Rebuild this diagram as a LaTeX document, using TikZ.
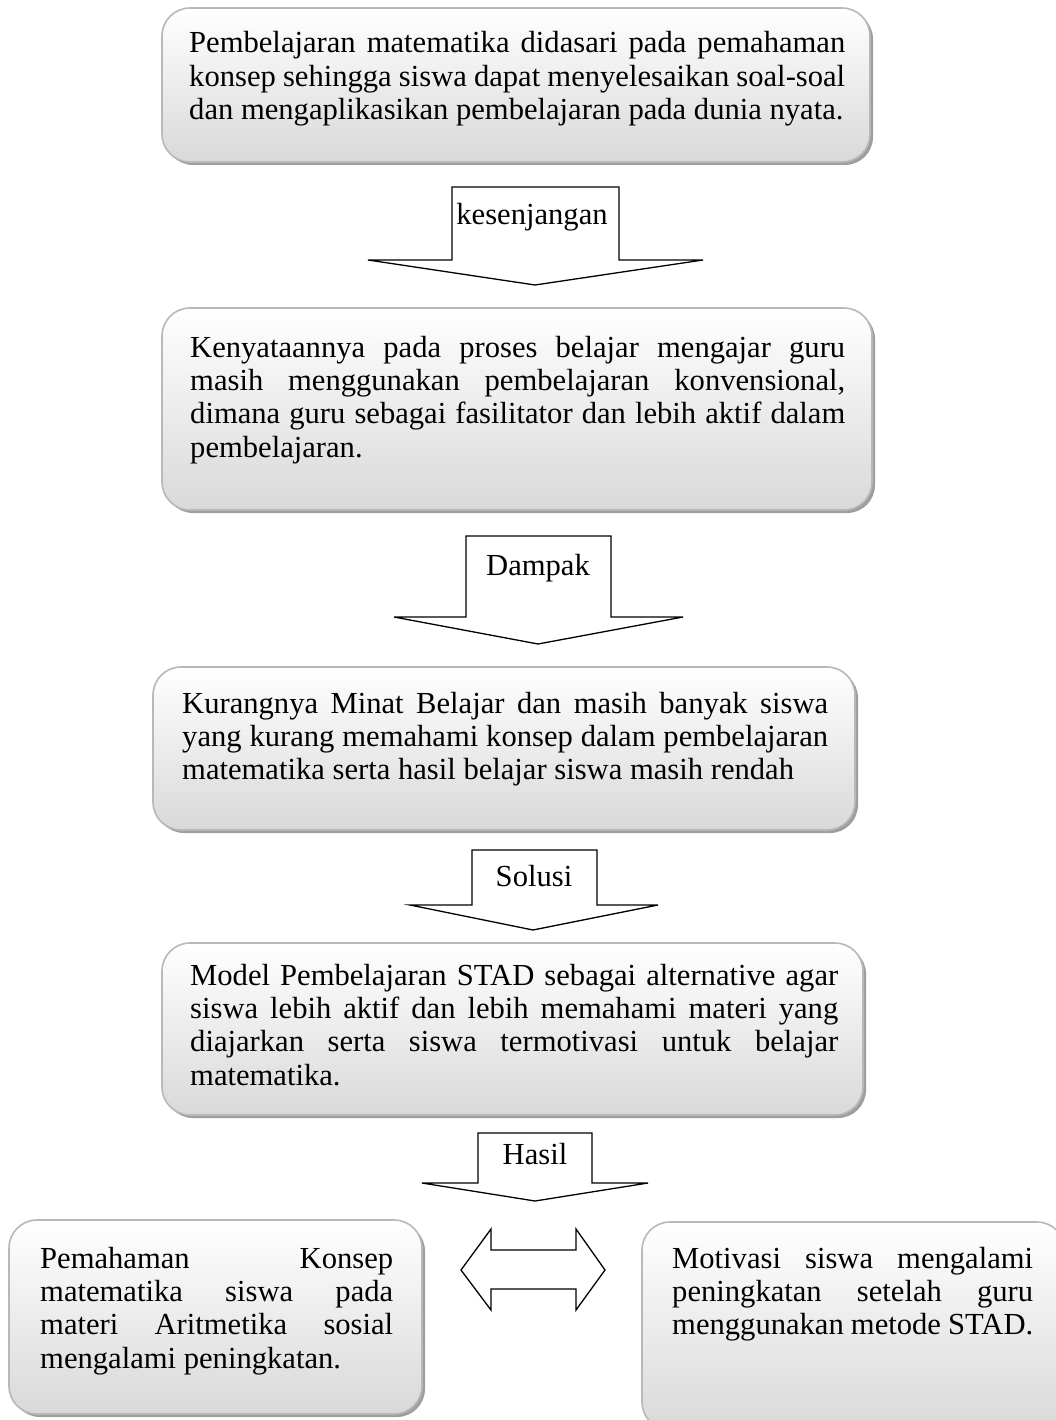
\documentclass[tikz,border=0pt]{standalone}
\usepackage{fontspec}
\setmainfont{Liberation Serif}
\begin{document}
\begin{tikzpicture}[x=1pt,y=-1pt,
  boxshadow/.style={fill=black!38,draw=none,rounded corners=28pt},
  boxface/.style={top color=white,bottom color=black!15,draw=black!28,line width=1.6pt,rounded corners=28pt},
  boxtext/.style={inner sep=0pt,anchor=base west,align=justify,font=\fontsize{30.6}{33.4}\selectfont},
  blockarrow/.style={draw=black,line width=1.3pt,fill=white,line join=miter},
  arrowlabel/.style={inner sep=0pt,anchor=base,font=\fontsize{30.6}{33.4}\selectfont}]
\useasboundingbox (0,0) rectangle (1055,1420);
\fill[white] (0,0) rectangle (1055,1420);

% Box 1
\fill[boxshadow] (165,11) rectangle (873,165);
\path[boxface] (162,8) rectangle (870,162);
\node[boxtext,text width=656pt] (t1) at (189,53) {Pembelajaran matematika didasari pada pemahaman\linebreak konsep sehingga siswa dapat menyelesaikan soal-soal\linebreak dan mengaplikasikan pembelajaran pada dunia nyata.};

% Arrow 1
\draw[blockarrow] (452,187) -- (619,187) -- (619,260) -- (703,260) -- (535,285) -- (368,260) -- (452,260) -- cycle;
\node[arrowlabel] (l1) at (532,225) {kesenjangan};

% Box 2
\fill[boxshadow] (165,311) rectangle (875,513);
\path[boxface] (162,308) rectangle (872,510);
\node[boxtext,text width=655pt] (t2) at (190,357) {Kenyataannya pada proses belajar mengajar guru\linebreak masih menggunakan pembelajaran konvensional,\linebreak dimana guru sebagai fasilitator dan lebih aktif dalam\linebreak pembelajaran.};

% Arrow 2
\draw[blockarrow] (466,536) -- (611,536) -- (611,617) -- (683,617) -- (538,644) -- (394,617) -- (466,617) -- cycle;
\node[arrowlabel] (l2) at (538,575) {Dampak};

% Box 3
\fill[boxshadow] (156,670) rectangle (858,833);
\path[boxface] (153,667) rectangle (855,830);
\node[boxtext,text width=646pt] (t3) at (182,713) {Kurangnya Minat Belajar dan masih banyak siswa\linebreak yang kurang memahami konsep dalam pembelajaran\linebreak matematika serta hasil belajar siswa masih rendah};

% Arrow 3
\draw[blockarrow] (472,850) -- (597,850) -- (597,905) -- (658,905) -- (533,930) -- (410,905) -- (472,905) -- cycle;
\node[arrowlabel] (l3) at (534,886) {Solusi};

% Box 4
\fill[boxshadow] (165,946) rectangle (866,1118);
\path[boxface] (162,943) rectangle (863,1115);
\node[boxtext,text width=648pt] (t4) at (190,985) {Model Pembelajaran STAD sebagai alternative agar\linebreak siswa lebih aktif dan lebih memahami materi yang\linebreak diajarkan serta siswa termotivasi untuk belajar\linebreak matematika.};

% Arrow 4
\draw[blockarrow] (478,1133) -- (592,1133) -- (592,1183) -- (648,1183) -- (535,1201) -- (422,1183) -- (478,1183) -- cycle;
\node[arrowlabel] (l4) at (535,1164) {Hasil};

% Double arrow
\draw[blockarrow] (461,1270) -- (491,1229) -- (491,1250) -- (576,1250) -- (576,1229) -- (605,1270) -- (576,1310) -- (576,1289) -- (491,1289) -- (491,1310) -- cycle;

% Box 5
\fill[boxshadow] (12,1223) rectangle (425,1417);
\path[boxface] (9,1220) rectangle (422,1414);
\node[boxtext,text width=353pt] (t5) at (40,1268) {Pemahaman Konsep\linebreak matematika siswa pada\linebreak materi Aritmetika sosial\linebreak mengalami peningkatan.};

% Box 6
\fill[boxshadow] (645,1225) rectangle (1068,1433);
\path[boxface] (642,1222) rectangle (1065,1430);
\node[boxtext,text width=361pt] (t6) at (672,1268) {Motivasi siswa mengalami\linebreak peningkatan setelah guru\linebreak menggunakan metode STAD.};
\end{tikzpicture}
\end{document}
